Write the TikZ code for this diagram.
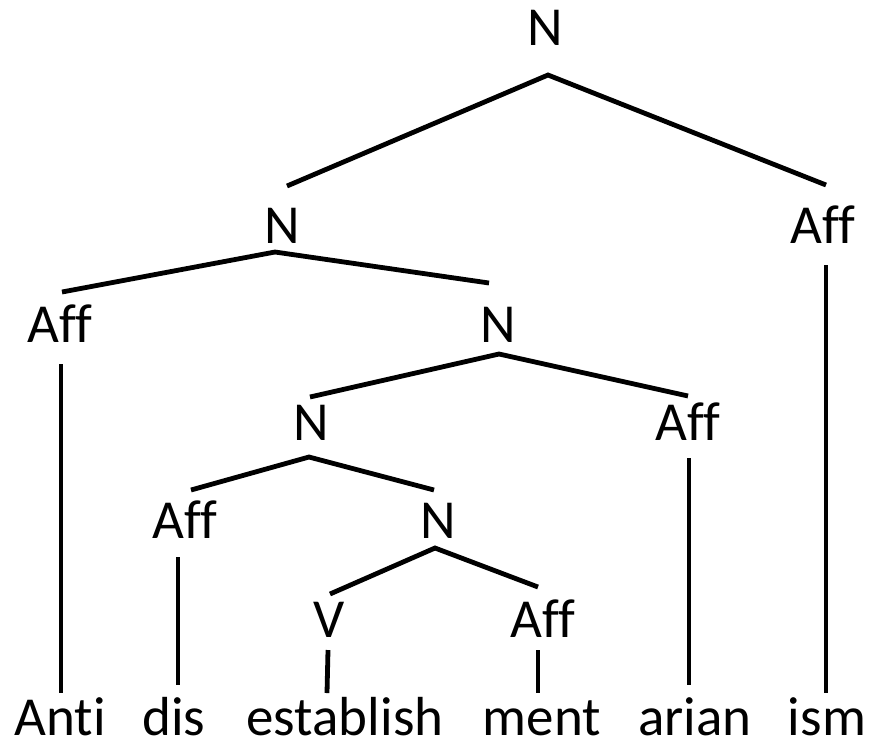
\documentclass[tikz,border=0pt]{standalone}
\usepackage{fontspec}
\setmainfont{Carlito}[Ligatures=CommonOff]
\usetikzlibrary{calc}

\begin{document}
\begin{tikzpicture}[
    x=0.5pt, y=-0.5pt,
    cat/.style={anchor=base, inner sep=0pt, font=\fontsize{27.5}{32}\selectfont},
    morph/.style={cat, text depth=0pt},
    branch/.style={line width=2.4pt, black}
]
\useasboundingbox (0,0) rectangle (877,741);

% categories
\node[cat] (nRoot) at (545,45) {N};
\node[cat] (nLeft) at (282,243) {N};
\node[cat] (affIsm) at (823,243) {Aff};
\node[cat] (affAnti) at (60,342) {Aff};
\node[cat] (nMid) at (498,342) {N};
\node[cat] (nInner) at (311,440) {N};
\node[cat] (affArian) at (688,440) {Aff};
\node[cat] (affDis) at (185,538) {Aff};
\node[cat] (nStem) at (438,538) {N};
\node[cat] (vEst) at (329,637) {V};
\node[cat] (affMent) at (543,637) {Aff};

% morphemes
\node[morph] (wAnti) at (60,735) {Anti};
\node[morph] (wDis) at (174,735) {dis};
\node[morph] (wEst) at (345,735) {establish};
\node[morph] (wMent) at (542,735) {ment};
\node[morph] (wArian) at (695,735) {arian};
\node[morph] (wIsm) at (827,735) {ism};

% branches
\draw[branch] ($(nLeft.base)+(5,-57)$) -- ($(nRoot.base)+(3,30)$) -- ($(affIsm.base)+(3,-58)$);
\draw[branch] ($(affAnti.base)+(2,-50)$) -- ($(nLeft.base)+(-7,9)$) -- ($(nMid.base)+(-9,-59)$);
\draw[branch] ($(nInner.base)+(-1,-43)$) -- ($(nMid.base)+(1,12)$) -- ($(affArian.base)+(0,-44)$);
\draw[branch] ($(affDis.base)+(6,-48)$) -- ($(nInner.base)+(-2,17)$) -- ($(nStem.base)+(-4,-48)$);
\draw[branch] ($(vEst.base)+(1,-43)$) -- ($(nStem.base)+(-3,10)$) -- ($(affMent.base)+(-5,-50)$);

\draw[branch] ($(affAnti.base)+(1,22)$) -- ($(wAnti.base)+(1,-42)$);
\draw[branch] ($(affIsm.base)+(3,22)$) -- ($(wIsm.base)+(-1,-42)$);
\draw[branch] ($(affArian.base)+(1,18)$) -- ($(wArian.base)+(-6,-50)$);
\draw[branch] ($(affDis.base)+(-7,19)$) -- ($(wDis.base)+(4,-50)$);
\draw[branch] ($(vEst.base)+(-1,13)$) -- ($(wEst.base)+(-18,-42)$);
\draw[branch] ($(affMent.base)+(-5,13)$) -- ($(wMent.base)+(-4,-42)$);
\end{tikzpicture}
\end{document}
